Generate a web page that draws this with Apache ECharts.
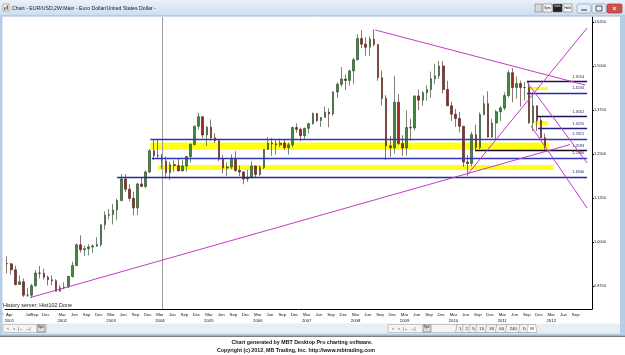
<!DOCTYPE html>
<html><head><meta charset="utf-8">
<script src="https://cdn.jsdelivr.net/npm/echarts@6/dist/echarts.min.js"></script>
<style>html,body{margin:0;padding:0;background:#fff;}#c{width:625px;height:355px;}</style>
</head><body><div id="c"></div>
<script>
// ---------- DATA ----------
const axisYears = [2001,2002,2003,2004,2005,2006,2007,2008,2009,2010,2011,2012];
const monthNames = ['Jan','Feb','Mar','Apr','May','Jun','Jul','Aug','Sep','Oct','Nov','Dec'];
// monthly EUR/USD candles, Jan 2001 .. Jan 2012
const open = [
0.9388,0.9380,0.9210,0.8793,0.8870,0.8489,0.8490,0.8760,0.9120,0.9115,0.9000,0.8930,
0.8900,0.8600,0.8700,0.8720,0.9020,0.9330,0.9920,0.9780,0.9810,0.9860,0.9890,0.9930,
1.0490,1.0760,1.0780,1.0910,1.1180,1.1790,1.1500,1.1240,1.0970,1.1650,1.1580,1.1990,
1.2590,1.2460,1.2450,1.2300,1.1970,1.2200,1.2170,1.2020,1.2160,1.2430,1.2770,1.3290,
1.3560,1.3040,1.3260,1.2960,1.2880,1.2350,1.2100,1.2130,1.2350,1.2030,1.1990,1.1790,
1.1840,1.2160,1.1920,1.2120,1.2630,1.2810,1.2790,1.2760,1.2810,1.2680,1.2760,1.3250,
1.3200,1.3020,1.3230,1.3360,1.3650,1.3450,1.3540,1.3690,1.3640,1.4260,1.4480,1.4630,
1.4590,1.4860,1.5180,1.5780,1.5620,1.5530,1.5760,1.5610,1.4670,1.4080,1.2730,1.2680,
1.3970,1.2800,1.2670,1.3250,1.3240,1.4150,1.4030,1.4240,1.4330,1.4640,1.4720,1.5000,
1.4330,1.3870,1.3630,1.3510,1.3290,1.2270,1.2230,1.3050,1.2680,1.3620,1.3930,1.2980,
1.3380,1.3700,1.3810,1.4160,1.4810,1.4390,1.4500,1.4390,1.4390,1.3390,1.3870,1.3450,
1.2960];
const high = [
0.9594,0.9403,0.9330,0.9046,0.8966,0.8695,0.8813,0.9205,0.9320,0.9237,0.9050,0.9055,
0.8940,0.8780,0.8858,0.9040,0.9440,0.9960,1.0190,0.9900,0.9940,0.9930,1.0140,1.0500,
1.0870,1.0940,1.1080,1.1230,1.1930,1.1930,1.1640,1.1430,1.1680,1.1840,1.2030,1.2640,
1.2900,1.2930,1.2500,1.2430,1.2280,1.2320,1.2380,1.2330,1.2440,1.2810,1.3300,1.3670,
1.3570,1.3290,1.3480,1.3090,1.2930,1.2480,1.2260,1.2490,1.2580,1.2170,1.2010,1.2050,
1.2290,1.2170,1.2180,1.2640,1.2980,1.2950,1.2890,1.2940,1.2910,1.2830,1.3280,1.3370,
1.3250,1.3250,1.3390,1.3680,1.3670,1.3550,1.3850,1.3800,1.4280,1.4530,1.4970,1.4760,
1.4900,1.5240,1.5900,1.6020,1.5820,1.5840,1.6040,1.5620,1.4870,1.4170,1.3010,1.4720,
1.4200,1.3030,1.3740,1.3500,1.4160,1.4330,1.4290,1.4450,1.4840,1.5060,1.5140,1.5140,
1.4580,1.3990,1.3780,1.3690,1.3290,1.2470,1.3130,1.3330,1.3680,1.4160,1.4280,1.3500,
1.3750,1.3860,1.4250,1.4880,1.4940,1.4700,1.4580,1.4550,1.4550,1.4250,1.3870,1.3550,
1.3080];
const low = [
0.9115,0.9068,0.8764,0.8780,0.8438,0.8440,0.8420,0.8730,0.8965,0.8928,0.8765,0.8768,
0.8620,0.8600,0.8655,0.8700,0.8990,0.9320,0.9700,0.9600,0.9620,0.9690,0.9860,0.9860,
1.0350,1.0650,1.0500,1.0620,1.1160,1.1420,1.1160,1.0760,1.0770,1.1560,1.1540,1.1960,
1.2330,1.2380,1.2080,1.1800,1.1760,1.1990,1.2010,1.2010,1.2000,1.2260,1.2740,1.3190,
1.2950,1.2730,1.2880,1.2810,1.2300,1.1950,1.1870,1.2070,1.2000,1.1870,1.1640,1.1710,
1.1800,1.1830,1.1880,1.2070,1.2620,1.2450,1.2480,1.2700,1.2620,1.2480,1.2690,1.3100,
1.2860,1.2930,1.3080,1.3340,1.3410,1.3270,1.3540,1.3260,1.3590,1.4090,1.4410,1.4310,
1.4440,1.4490,1.5160,1.5510,1.5290,1.5290,1.5550,1.4580,1.3880,1.2330,1.2420,1.2510,
1.2750,1.2450,1.2460,1.2880,1.3170,1.3740,1.3870,1.4020,1.4100,1.4480,1.4630,1.4220,
1.3860,1.3440,1.3270,1.3110,1.2140,1.1880,1.2150,1.2590,1.2640,1.3600,1.2970,1.2960,
1.2870,1.3440,1.3740,1.4110,1.3970,1.4070,1.3840,1.4020,1.3360,1.3150,1.3150,1.2940,
1.2620];
const close = [
0.9380,0.9210,0.8793,0.8870,0.8489,0.8490,0.8760,0.9120,0.9115,0.9000,0.8930,0.8900,
0.8600,0.8700,0.8720,0.9020,0.9330,0.9920,0.9780,0.9810,0.9860,0.9890,0.9930,1.0490,
1.0760,1.0780,1.0910,1.1180,1.1790,1.1500,1.1240,1.0970,1.1650,1.1580,1.1990,1.2590,
1.2460,1.2450,1.2300,1.1970,1.2200,1.2170,1.2020,1.2160,1.2430,1.2770,1.3290,1.3560,
1.3040,1.3260,1.2960,1.2880,1.2350,1.2100,1.2130,1.2350,1.2030,1.1990,1.1790,1.1840,
1.2160,1.1920,1.2120,1.2630,1.2810,1.2790,1.2760,1.2810,1.2680,1.2760,1.3250,1.3200,
1.3020,1.3230,1.3360,1.3650,1.3450,1.3540,1.3690,1.3640,1.4260,1.4480,1.4630,1.4590,
1.4860,1.5180,1.5780,1.5620,1.5530,1.5760,1.5610,1.4670,1.4080,1.2730,1.2680,1.3970,
1.2800,1.2670,1.3250,1.3240,1.4150,1.4030,1.4240,1.4330,1.4640,1.4720,1.5000,1.4330,
1.3870,1.3630,1.3510,1.3290,1.2270,1.2230,1.3050,1.2680,1.3620,1.3930,1.2980,1.3380,
1.3700,1.3810,1.4160,1.4810,1.4390,1.4500,1.4390,1.4390,1.3390,1.3870,1.3450,1.2960,
1.2722];
const lastPriceText = '1.2723';
const lastPrice = 1.2723;

// price scale tick labels
const priceTicks = [0.875, 1.0, 1.125, 1.25, 1.375, 1.5, 1.625];

// time-axis tick labels (first year irregular, then quarterly)
const firstLabels = ['Apr','Jul','Sep','Dec'];
const firstLabelPos = [2001.086, 2001.475, 2001.60, 2001.833];
const quarterMonths = ['Mar','Jun','Sep','Dec'];
const quarterMonthIdx = [2,5,8,11];

// horizontal levels
const levelPrices = [1.4554, 1.4234, 1.3562, 1.3225, 1.2921, 1.2593, 1.2380, 1.1840];
const levelStart  = [2011.67, 2011.67, 2011.875, 2011.90, 2003.97, 2010.61, 2004.00, 2003.29];
const levelEnd = 2012.90;

// trend lines [year, price]
const trendA = [[2001.51, 0.842], [2012.55, 1.277]];
const trendB = [[2008.567, 1.6023], [2012.858, 1.446]];
const trendC = [[2010.446, 1.1903], [2012.90, 1.608]];
const trendD = [[2011.67, 1.4545], [2012.90, 1.2244]];
const trendE = [[2011.754, 1.3295], [2012.90, 1.0966]];

// yellow zones
const zoneFrom = [2003.97, 2004.125, 2011.69, 2011.83];
const zoneTo   = [2012.125, 2012.208, 2012.10, 2012.10];
const zoneTop  = [1.2830, 1.2188, 1.4403, 1.3438];
const zoneBot  = [1.2620, 1.2045, 1.4318, 1.3324];

const crosshairYear = 2004.218;

// ---------- BUILD ----------
const FONT = 'Liberation Sans';
const toV = y => (y - 2001) * 12;
const categories = [];
axisYears.forEach(y => monthNames.forEach(m => categories.push(m + ' ' + y)));
const candles = open.map((o, i) => [o, close[i], low[i], high[i]]);

const labelVals = [], labelMap = {};
firstLabels.forEach((m, i) => {
  const v = toV(firstLabelPos[i]);
  labelVals.push(v);
  labelMap[v.toFixed(3)] = i === 0 ? m + '\n2001' : m;
});
axisYears.slice(1).forEach(y => {
  quarterMonths.forEach((m, q) => {
    if (y === 2012 && q === 3) return;
    const v = (y - 2001) * 12 + quarterMonthIdx[q];
    labelVals.push(v);
    labelMap[v.toFixed(3)] = q === 0 ? m + '\n' + y : m;
  });
});

const levelColors = ['#14145a','#2828a8','#14145a','#20207a','#3434b8','#101020','#3434b8','#2525a0'];
const magenta = '#c23bc8';
function trend(pts) {
  return { type:'line', xAxisIndex:1, yAxisIndex:0, data: pts.map(p => [toV(p[0]), p[1]]),
    showSymbol:false, symbol:'none', silent:true, z:5,
    lineStyle:{ color: magenta, width:1 } };
}

const chart = echarts.init(document.getElementById('c'), null, {renderer:'canvas'});
const option = {
  animation:false,
  backgroundColor:'#ffffff',
  textStyle:{ fontFamily: FONT },
  grid:{ left:5.1, right:33, top:17, bottom:46, containLabel:false },
  xAxis:[
    { type:'category', data:categories, boundaryGap:true, show:false, position:'bottom', gridIndex:0 },
    { type:'value', min:0, max:144, position:'bottom', gridIndex:0,
      axisLine:{ show:true, onZero:false, lineStyle:{ color:'#000', width:1 } },
      axisTick:{ show:false }, splitLine:{ show:false },
      axisLabel:{ customValues: labelVals, fontSize:4.3, lineHeight:6, margin:3, color:'#111', fontFamily:FONT,
        hideOverlap:false,
        formatter: v => labelMap[Number(v).toFixed(3)] || '' } }
  ],
  yAxis:[{ type:'value', position:'right', min:0.8097, max:1.6392, scale:true,
    axisLine:{ show:true, onZero:false, lineStyle:{ color:'#000', width:1 } },
    axisTick:{ show:true, customValues: priceTicks, length:2, lineStyle:{ color:'#000' } },
    splitLine:{ show:false },
    axisLabel:{ customValues: priceTicks, fontSize:3.9, margin:2, color:'#111', fontFamily:FONT,
      formatter: v => Number(v).toFixed(4) } }],
  series:[
    { type:'line', xAxisIndex:1, yAxisIndex:0, data:[], silent:true, z:1,
      markArea:{ silent:true, itemStyle:{ color:'#ffff1a', opacity:1 },
        data: zoneFrom.map((f, i) => [{ coord:[toV(f), zoneTop[i]] }, { coord:[toV(zoneTo[i]), zoneBot[i]] }]) },
      markLine:{ silent:true, symbol:['none','none'], label:{ show:false },
        lineStyle:{ color:'#9c9c9c', width:1, type:'solid' },
        data:[{ xAxis: toV(crosshairYear) }] } },
    { type:'candlestick', xAxisIndex:0, yAxisIndex:0, data:candles, barWidth:2.1, z:3,
      itemStyle:{ color:'#3f8f3a', color0:'#9c2a22', borderColor:'#1f3a1c', borderColor0:'#451512', borderWidth:0.6 } },
    { type:'line', xAxisIndex:1, yAxisIndex:0, data:[], silent:true, z:4,
      markLine:{ silent:true, symbol:['none','none'],
        lineStyle:{ width:1.3, type:'solid' },
        label:{ show:true, position:'insideEndTop', distance:3, fontSize:3.9, color:'#1a1a6a', fontFamily:FONT },
        data: levelPrices.map((p, i) => [
          { coord:[toV(levelStart[i]), p], lineStyle:{ color: levelColors[i] }, label:{ formatter: p.toFixed(4) } },
          { coord:[toV(levelEnd), p] } ]) } },
    trend(trendA), trend(trendB), trend(trendC), trend(trendD), trend(trendE),
    { type:'line', xAxisIndex:1, yAxisIndex:0, data:[], silent:true, z:6,
      markLine:{ silent:true, symbol:['none','none'], lineStyle:{ opacity:0 },
        label:{ show:true, position:'end', distance:1.5, formatter:lastPriceText, fontSize:3.9,
          color:'#fff', backgroundColor:'#000', padding:[0.6,1.2], fontFamily:FONT },
        data:[{ yAxis: lastPrice }] } }
  ],
  graphic:{ elements:[
    // clipped first month label at the left edge
    { type:'text', x:0, y:312, z:9, style:{ text:'Jan', font:'4.3px "Liberation Sans"', fill:'#111', align:'center', verticalAlign:'top' } },
    // title bar
    { type:'rect', shape:{x:0,y:0,width:625,height:16}, z:10,
      style:{ fill:new echarts.graphic.LinearGradient(0,0,0,1,[{offset:0,color:'#eaf1fa'},{offset:1,color:'#cddcee'}]) } },
    { type:'line', shape:{x1:0,y1:16,x2:625,y2:16}, z:10, style:{ stroke:'#9fb6d3', lineWidth:1 } },
    { type:'rect', shape:{x:3,y:4,width:6,height:7}, z:11, style:{ fill:'#f4f4f4', stroke:'#777', lineWidth:0.5 } },
    { type:'rect', shape:{x:4,y:7,width:1.5,height:3}, z:11, style:{ fill:'#3a3' } },
    { type:'rect', shape:{x:6.5,y:5.5,width:1.5,height:4}, z:11, style:{ fill:'#c33' } },
    { type:'text', x:12, y:8.5, z:11, style:{ text:'Chart - EUR/USD,2W:Main - Euro Dollar/United States Dollar -',
      font:'5.2px "Liberation Sans"', fill:'#1b1b1b', verticalAlign:'middle' } },
    { type:'rect', shape:{x:535,y:4,width:7,height:8}, z:11, style:{ fill:'#d8d8d8', stroke:'#666', lineWidth:0.5 } },
    { type:'rect', shape:{x:543,y:4,width:9,height:8}, z:11, style:{ fill:'#f6f6f6', stroke:'#666', lineWidth:0.5 } },
    { type:'text', x:547.5, y:8, z:12, style:{ text:'Sync', font:'3px "Liberation Sans"', fill:'#000', align:'center', verticalAlign:'middle' } },
    { type:'rect', shape:{x:553,y:4,width:9,height:8}, z:11, style:{ fill:'#222', stroke:'#666', lineWidth:0.5 } },
    { type:'text', x:557.5, y:6.5, z:12, style:{ text:'Dock', font:'2.6px "Liberation Sans"', fill:'#fff', align:'center', verticalAlign:'middle' } },
    { type:'rect', shape:{x:563,y:4,width:9,height:8}, z:11, style:{ fill:'#f6f6f6', stroke:'#666', lineWidth:0.5 } },
    { type:'text', x:567.5, y:8, z:12, style:{ text:'Hold', font:'3px "Liberation Sans"', fill:'#000', align:'center', verticalAlign:'middle' } },
    { type:'rect', shape:{x:577,y:4,width:14,height:9,r:1.5}, z:11, style:{ fill:'#e6eef8', stroke:'#7a8fa8', lineWidth:0.6 } },
    { type:'line', shape:{x1:581,y1:10,x2:587,y2:10}, z:12, style:{ stroke:'#333', lineWidth:1 } },
    { type:'rect', shape:{x:592,y:4,width:14,height:9,r:1.5}, z:11, style:{ fill:'#e6eef8', stroke:'#7a8fa8', lineWidth:0.6 } },
    { type:'rect', shape:{x:596,y:6,width:6,height:5}, z:12, style:{ fill:'none', stroke:'#333', lineWidth:0.8 } },
    { type:'rect', shape:{x:607,y:4,width:15,height:9,r:1.5}, z:11, style:{ fill:'#d0524a', stroke:'#8a2b25', lineWidth:0.6 } },
    { type:'text', x:614.5, y:8.5, z:12, style:{ text:'x', font:'bold 6px "Liberation Sans"', fill:'#fff', align:'center', verticalAlign:'middle' } },
    // window side frames
    { type:'rect', shape:{x:0,y:16,width:2.5,height:320}, z:10, style:{ fill:'#b7cde6' } },
    { type:'rect', shape:{x:620,y:16,width:5,height:320}, z:10, style:{ fill:'#b7cde6' } },
    // status text
    { type:'text', x:3, y:305.5, z:10, style:{ text:'History server: Hist102 Done', font:'5.4px "Liberation Sans"', fill:'#222', verticalAlign:'middle' } },
    // bottom toolbar
    { type:'rect', shape:{x:2.5,y:323.5,width:617.5,height:10}, z:10, style:{ fill:'#e9eef5' } },
    { type:'rect', shape:{x:3,y:324.5,width:43,height:8}, z:11, style:{ fill:'#f4f4f4', stroke:'#9a9a9a', lineWidth:0.5 } },
    { type:'text', x:7, y:328.5, z:12, style:{ text:'<   >   |\u2190  \u2192|', font:'4px "Liberation Sans"', fill:'#333', verticalAlign:'middle' } },
    { type:'rect', shape:{x:37,y:325,width:8,height:7}, z:12, style:{ fill:'#ddd', stroke:'#555', lineWidth:0.5 } },
    { type:'text', x:41, y:327, z:13, style:{ text:'Sync', font:'2.6px "Liberation Sans"', fill:'#000', align:'center', verticalAlign:'middle' } },
    { type:'rect', shape:{x:388,y:324.5,width:69,height:8}, z:11, style:{ fill:'#f4f4f4', stroke:'#9a9a9a', lineWidth:0.5 } },
    { type:'text', x:392, y:328.5, z:12, style:{ text:'<   >   |\u2190  \u2192|', font:'4px "Liberation Sans"', fill:'#333', verticalAlign:'middle' } },
    { type:'rect', shape:{x:423,y:325,width:8,height:7}, z:12, style:{ fill:'#ddd', stroke:'#555', lineWidth:0.5 } },
    { type:'text', x:427, y:327, z:13, style:{ text:'Sync', font:'2.6px "Liberation Sans"', fill:'#000', align:'center', verticalAlign:'middle' } },
    ...[['1',457,463.3],['2',463.3,470],['5',470,476.7],['15',476.7,486.7],['30',486.7,496.7],['60',496.7,506.7],['240',506.7,520],['D',520,528.3],['W',528.3,535.5]]
      .flatMap(t => [
        { type:'polygon', z:11, shape:{ points:[[t[1],324.5],[t[2],324.5],[t[2]+1.5,332.5],[t[1]-1.5,332.5]] },
          style:{ fill: t[0]==='W' ? '#ffffff' : '#eef0f3', stroke:'#8a8a8a', lineWidth:0.5 } },
        { type:'text', z:12, x:(t[1]+t[2])/2, y:328.5, style:{ text:t[0], font:'4.2px "Liberation Sans"', fill:'#222', align:'center', verticalAlign:'middle' } }
      ]),
    { type:'rect', shape:{x:0,y:333.5,width:625,height:2.5}, z:10, style:{ fill:'#b7cde6' } },
    { type:'line', shape:{x1:0,y1:336.3,x2:625,y2:336.3}, z:10, style:{ stroke:'#2e2e2e', lineWidth:0.8 } },
    // footer
    { type:'text', x:302, y:342.5, z:10, style:{ text:'Chart generated by MBT Desktop Pro charting software.', font:'bold 5.3px "Liberation Sans"', fill:'#111', align:'center', verticalAlign:'middle' } },
    { type:'text', x:296, y:350.5, z:10, style:{ text:'Copyright (c) 2012, MB Trading, Inc. http://www.mbtrading.com', font:'bold 5.3px "Liberation Sans"', fill:'#111', align:'center', verticalAlign:'middle' } }
  ]}
};
chart.setOption(option);
</script>
</body></html>
